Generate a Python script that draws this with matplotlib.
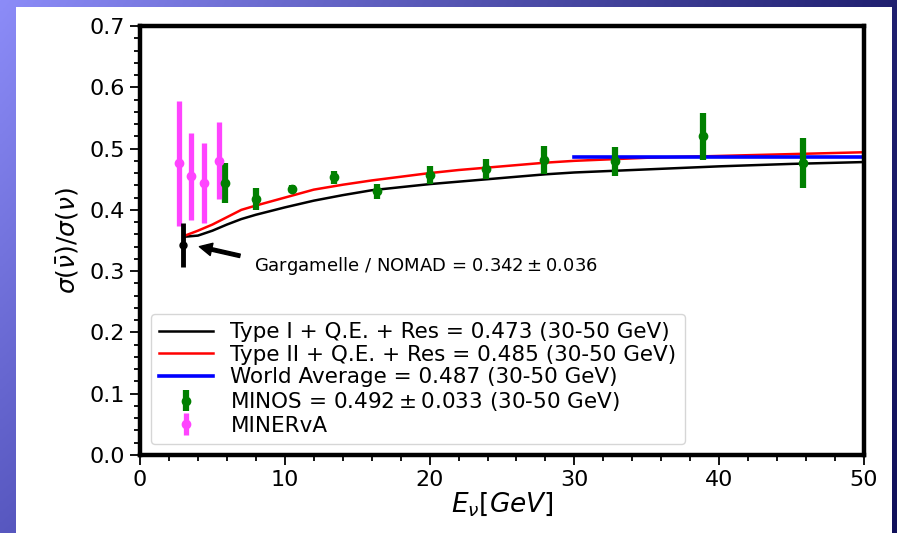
import matplotlib
matplotlib.use("Agg")
import matplotlib.pyplot as plt
import numpy as np
from matplotlib.patches import Rectangle
from matplotlib.ticker import MultipleLocator

plt.rcParams['font.family'] = 'DejaVu Sans'
plt.rcParams['mathtext.fontset'] = 'dejavusans'

# model curves, ratio vs neutrino energy
e_curve = [3, 4, 5, 6, 7, 8, 10, 12, 14, 16, 18, 20, 22, 24, 26, 28, 30, 35, 40, 45, 50]
type1 = [0.356, 0.358, 0.366, 0.376, 0.385, 0.392, 0.404, 0.415, 0.424, 0.432, 0.437,
         0.442, 0.446, 0.450, 0.454, 0.458, 0.461, 0.466, 0.471, 0.475, 0.478]
type2 = [0.357, 0.366, 0.376, 0.388, 0.400, 0.407, 0.420, 0.433, 0.441, 0.448, 0.454,
         0.460, 0.465, 0.469, 0.473, 0.477, 0.480, 0.485, 0.488, 0.491, 0.494]

world_avg_range = [30, 50]
world_avg = 0.487

minos_e = [5.9, 8.0, 10.5, 13.4, 16.4, 20.0, 23.9, 27.9, 32.8, 38.9, 45.8]
minos_r = [0.444, 0.417, 0.434, 0.453, 0.430, 0.457, 0.467, 0.481, 0.479, 0.520, 0.477]
minos_err = [0.033, 0.018, 0.007, 0.011, 0.013, 0.015, 0.016, 0.023, 0.023, 0.038, 0.041]

minerva_e = [2.7, 3.55, 4.4, 5.45]
minerva_r = [0.476, 0.455, 0.444, 0.480]
minerva_err = [0.102, 0.071, 0.065, 0.063]

garg_e = [3.0]
garg_r = [0.342]
garg_err = [0.036]

fig = plt.figure(figsize=(8.97, 5.33), dpi=100)

# slide-style backdrop: blue gradient with a white panel
bg = fig.add_axes([0, 0, 1, 1], zorder=-10)
c_tl = np.array([0x8c, 0x8c, 0xf8]) / 255
c_tr = np.array([0x20, 0x20, 0x70]) / 255
c_bl = np.array([0x58, 0x58, 0xc0]) / 255
c_br = np.array([0x10, 0x10, 0x5a]) / 255
U, V = np.meshgrid(np.linspace(0, 1, 300), np.linspace(0, 1, 200))
U = U[..., None]
V = V[..., None]
grad = c_tl * (1 - U) * (1 - V) + c_tr * U * (1 - V) + c_bl * (1 - U) * V + c_br * U * V
bg.imshow(grad, aspect='auto', extent=[0, 1, 0, 1])
bg.add_patch(Rectangle((16 / 897, 0), (892 - 16) / 897, 526 / 533,
                       transform=bg.transAxes, facecolor='white', edgecolor='none'))
bg.set_xlim(0, 1)
bg.set_ylim(0, 1)
bg.axis('off')

ax = fig.add_axes([140 / 897, 1 - 455 / 533, 724 / 897, 429 / 533])

ax.plot(e_curve, type1, color='black', lw=1.8, label='Type I + Q.E. + Res = 0.473 (30-50 GeV)')
ax.plot(e_curve, type2, color='red', lw=1.8, label='Type II + Q.E. + Res = 0.485 (30-50 GeV)')
ax.plot(world_avg_range, [world_avg, world_avg], color='blue', lw=2.6,
        label='World Average = 0.487 (30-50 GeV)')
ax.errorbar(minos_e, minos_r, yerr=minos_err, fmt='o', color='green', ms=6,
            elinewidth=4.5, capsize=0,
            label=r'MINOS = $0.492 \pm 0.033$ (30-50 GeV)')
ax.errorbar(minerva_e, minerva_r, yerr=minerva_err, fmt='o', color='#ff44ff', ms=6,
            elinewidth=3.8, capsize=0, label='MINERvA')
ax.errorbar(garg_e, garg_r, yerr=garg_err, fmt='o', color='black', ms=5,
            elinewidth=3.5, capsize=0)

# arrow pointing at the Gargamelle / NOMAD point, label to its right
ax.annotate('', xy=(4.1, 0.340), xytext=(6.9, 0.325),
            arrowprops=dict(facecolor='black', edgecolor='black', width=2.5,
                            headwidth=9, headlength=9, shrink=0.0))
ax.text(7.9, 0.309, r'Gargamelle / NOMAD = $0.342 \pm 0.036$', fontsize=13,
        va='center', ha='left')

ax.set_xlim(0, 50)
ax.set_ylim(0, 0.7)
ax.xaxis.set_major_locator(MultipleLocator(10))
ax.xaxis.set_minor_locator(MultipleLocator(2))
ax.yaxis.set_major_locator(MultipleLocator(0.1))
ax.yaxis.set_minor_locator(MultipleLocator(0.02))
ax.yaxis.set_major_formatter(matplotlib.ticker.FormatStrFormatter('%.1f'))
ax.tick_params(which='major', length=7, width=1.3, labelsize=16, pad=4)
ax.tick_params(which='minor', length=4, width=1.3)
for sp in ax.spines.values():
    sp.set_linewidth(3.2)

ax.set_xlabel(r'$E_{\nu}[GeV]$', fontsize=19, labelpad=0)
ax.set_ylabel(r'$\sigma(\bar{\nu})/\sigma(\nu)$', fontsize=18, labelpad=6)

ax.legend(loc='lower left', fontsize=15.5, handlelength=2.5, handletextpad=0.8,
          labelspacing=0.12, borderaxespad=0.5, borderpad=0.4)

fig.savefig('out.png', dpi=100)
